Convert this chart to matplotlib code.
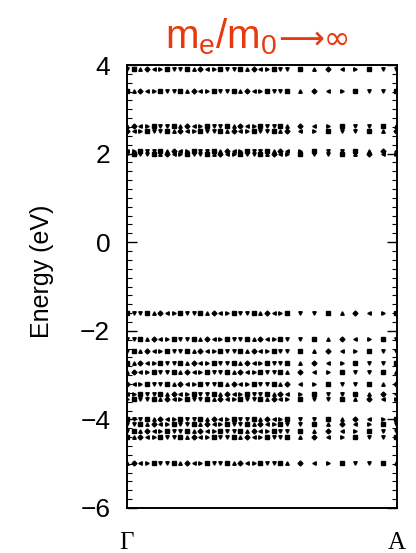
import numpy as np
import matplotlib
matplotlib.use('Agg')
import matplotlib.pyplot as plt

plt.rcParams['mathtext.fontset'] = 'custom'
plt.rcParams['mathtext.rm'] = 'Liberation Sans'

# flat bands (eV)
bands = [3.92, 3.42, 2.63, 2.51, 2.06, 2.00,
         -1.60, -2.19, -2.46, -2.72, -2.92, -3.21, -3.43, -3.55,
         -3.98, -4.10, -4.26, -4.39, -4.99]

# k points between Gamma (0) and A (1): dense part then sparse part
k_dense = [0.000, 0.025, 0.049, 0.074, 0.099, 0.124, 0.148, 0.173, 0.198,
           0.222, 0.247, 0.272, 0.297, 0.321, 0.346, 0.371, 0.395, 0.420,
           0.445, 0.469, 0.494, 0.519, 0.544, 0.568, 0.593]
k_sparse = [0.642, 0.693, 0.744, 0.795, 0.846, 0.897, 0.948, 0.995]

yticks = [-6, -4, -2, 0, 2, 4]
ylabels = ['\u22126', '\u22124', '\u22122', '0', '2', '4']
xlabels = ['\u0393', 'A']
title_a = r'm$\mathrm{_e}$/m$\mathrm{_0}$'
title_b = '\u27f6\u221e'

marks = ['v', 's', '^', 'D', '<', '>', 's', 'v']

fig = plt.figure(figsize=(4.16, 5.53), dpi=100)
ax = fig.add_axes([0.305, 0.0814, 0.649, 0.801])

kk = k_dense + k_sparse
for j, e in enumerate(bands):
    for i, k in enumerate(kk):
        m = marks[(i + j) % len(marks)]
        ax.plot(k, e, marker=m, color='black', markersize=2.5, linestyle='none')

ax.set_xlim(0, 1)
ax.set_ylim(-6, 4)
ax.set_xticks([0, 1])
ax.set_xticklabels(xlabels, family='Liberation Serif', size=18)
ax.tick_params(axis='x', length=0, pad=17)
ax.set_yticks(yticks)
ax.set_yticks(np.arange(-6, 4.01, 0.2), minor=True)
ax.set_yticklabels(ylabels, family='Liberation Sans', size=19)
ax.tick_params(axis='y', which='major', direction='in', length=7, width=1,
               right=True, pad=12)
ax.tick_params(axis='y', which='minor', direction='in', length=3.5, width=0.8,
               right=True)
for s in ax.spines.values():
    s.set_linewidth(1.4)
ax.set_ylabel('Energy (eV)', family='Liberation Sans', size=18)
ax.yaxis.set_label_coords(-0.27, 0.535)

red = '#e83a10'
fig.text(0.668, 0.912, title_a, color=red, size=29, ha='right',
         va='baseline', family='Liberation Sans')
fig.text(0.668, 0.912, title_b, color=red, size=23, ha='left',
         va='baseline', family='DejaVu Sans')

fig.savefig('out.png', dpi=100)
